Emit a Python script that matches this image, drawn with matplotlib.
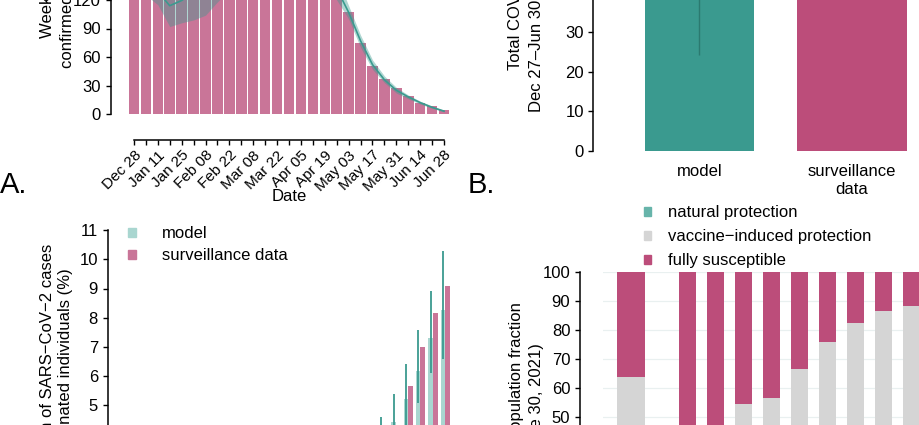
import matplotlib
matplotlib.use("Agg")
import matplotlib.pyplot as plt
import numpy as np
from matplotlib.patches import Patch

plt.rcParams["font.family"] = ["Liberation Sans", "DejaVu Sans"]
plt.rcParams["font.size"] = 12

TEAL = "#3a9a8f"
PINK = "#bc4d7a"
LIGHT_PINK = "#c97598"
LIGHT_TEAL = "#a9d6d0"
GREY = "#d5d5d5"

# panel A: weekly confirmed cases among vaccinated (upper part is cropped)
week_labels = ["Dec 28", "Jan 11", "Jan 25", "Feb 08", "Feb 22", "Mar 08", "Mar 22",
               "Apr 05", "Apr 19", "May 03", "May 17", "May 31", "Jun 14", "Jun 28"]
weekly_cases = [150, 170, 190, 205, 215, 230, 250, 245, 240, 235, 228, 220, 210,
                200, 190, 178, 160, 135, 107, 75, 51, 37, 27, 19, 12, 8, 4]
model_mid = [160, 145, 129, 114, 119.5, 128, 140, 150, 160, 170, 180, 185, 190,
             188, 185, 175, 160, 132, 107, 77, 52, 36, 25, 18, 12, 7, 3]
model_lo = [140, 125, 115, 92, 96, 99, 104, 118, 130, 140, 150, 155, 160,
            160, 158, 150, 140, 120, 100, 70, 47, 33, 22, 16, 10.5, 6, 2.3]
model_hi = [185, 170, 150, 140, 145, 160, 175, 185, 195, 205, 215, 220, 222,
            220, 215, 205, 185, 145, 114, 83, 57, 40, 28, 20, 13.5, 8.5, 4]

# panel B: total cases Dec 27 - Jun 30
total_labels = ["model", "surveillance\ndata"]
total_values = [44.8, 46.1]
model_total_lo = 24.2
model_total_hi = 61.0

# panel C: share of cases among vaccinated, weekly
share_model = [0.1, 0.15, 0.2, 0.3, 0.35, 0.45, 0.55, 0.6, 0.7, 0.8, 0.95, 1.1, 1.25,
               1.4, 1.6, 1.8, 2.0, 2.3, 2.6, 2.9, 3.3, 3.9, 4.44, 5.22, 6.18, 7.29, 8.26]
share_model_lo = [0.0, 0.05, 0.1, 0.15, 0.2, 0.25, 0.3, 0.35, 0.4, 0.5, 0.6, 0.7, 0.8,
                  0.9, 1.0, 1.2, 1.4, 1.6, 1.9, 2.1, 2.5, 3.0, 3.4, 4.1, 5.07, 6.09, 6.58]
share_model_hi = [0.3, 0.35, 0.4, 0.5, 0.6, 0.7, 0.8, 0.9, 1.0, 1.2, 1.35, 1.5, 1.7,
                  1.9, 2.2, 2.5, 2.7, 3.0, 3.4, 3.8, 4.2, 4.61, 5.39, 6.41, 7.58, 8.91, 10.3]
share_data = [0.1, 0.1, 0.2, 0.25, 0.3, 0.4, 0.5, 0.6, 0.65, 0.8, 0.9, 1.0, 1.2,
              1.3, 1.5, 1.7, 1.9, 2.2, 2.5, 2.8, 3.2, 3.6, 4.1, 5.67, 7.0, 8.15, 9.09]

# panel D: population fraction by group (June 30, 2021)
group_pos = [0, 2, 3, 4, 5, 6, 7, 8, 9, 10]
natural = [8, 4, 6, 8, 8, 8, 7, 6, 5, 5]
protected_top = [63.8, 22, 38, 54.5, 56.8, 66.7, 76.1, 82.5, 86.6, 88.5]


def px_box(left, top, right, bottom):
    return [left / 920, 1 - bottom / 425, (right - left) / 920, (bottom - top) / 425]


def r_style(ax, pad=4):
    for s in ["top", "right"]:
        ax.spines[s].set_visible(False)
    ax.tick_params(length=3.6, width=1.0, pad=pad, labelsize=12)
    for s in ax.spines.values():
        s.set_linewidth(1.1)


fig = plt.figure(figsize=(9.2, 4.25), dpi=100)

# ---- A
axA = fig.add_axes(px_box(128, -171, 450, 114))
x = np.arange(len(weekly_cases))
axA.bar(x, weekly_cases, width=0.88, color=LIGHT_PINK, zorder=1)
axA.fill_between(x, model_lo, model_hi, color=TEAL, alpha=0.4, lw=0, zorder=2)
axA.plot(x, model_mid, color=TEAL, lw=1.2, zorder=3)
axA.set_xlim(-0.5, 26.5)
axA.set_ylim(0, 300)
r_style(axA, pad=4)
axA.spines["left"].set_position(("outward", 12))
axA.spines["left"].set_bounds(0, 300)
axA.spines["bottom"].set_position(("outward", 19))
axA.spines["bottom"].set_bounds(0, 26)
axA.set_yticks(np.arange(0, 301, 30))
axA.set_xticks(np.arange(0, 27, 2))
axA.set_xticks(np.arange(1, 27, 2), minor=True)
axA.tick_params(axis="x", which="both", length=3.6, width=1.0, pad=2)
axA.set_xticklabels(week_labels, rotation=45, ha="right", va="top",
                    rotation_mode="anchor", fontsize=11)
axA.set_xlabel("Date", fontsize=12, labelpad=-3)
fig.text(48 / 920, 1 - 38 / 425, "Weekly number of", rotation=90,
         ha="center", va="bottom", fontsize=12)
fig.text(68 / 920, 1 - 68 / 425, "confirmed cases in vaccinated", rotation=90,
         ha="center", va="bottom", fontsize=12)
fig.text(0 / 920, 1 - 193 / 425, "A.", fontsize=21, ha="left", va="baseline")

# ---- B
axB = fig.add_axes(px_box(593, -86.6, 920, 151))
axB.bar([0, 1], total_values, width=0.715, color=[TEAL, PINK], zorder=1)
axB.vlines(0, model_total_lo, model_total_hi, color="#2b7a70", lw=1.0, zorder=2)
axB.set_xlim(-0.698, 1.446)
axB.set_ylim(0, 60)
r_style(axB, pad=3)
axB.spines["bottom"].set_visible(False)
axB.spines["left"].set_bounds(0, 60)
axB.set_yticks(np.arange(0, 61, 10))
axB.set_xticks([0, 1])
axB.set_xticklabels(total_labels, fontsize=12, linespacing=1.3)
axB.tick_params(axis="x", length=0, pad=9)
fig.text(516 / 920, 1 - 70 / 425, "Total COVID−19 cases", rotation=90,
         ha="center", va="bottom", fontsize=12)
fig.text(537 / 920, 1 - 112 / 425, "Dec 27–Jun 30, 2021 (%)", rotation=90,
         ha="center", va="bottom", fontsize=12)
fig.text(468 / 920, 1 - 193 / 425, "B.", fontsize=21, ha="left", va="baseline")

# ---- C
axC = fig.add_axes(px_box(116.8, 230.1, 451.6, 551.3))
xc = np.arange(len(share_model))
axC.bar(xc - 0.18, share_model, width=0.38, color=LIGHT_TEAL, zorder=1)
axC.bar(xc + 0.18, share_data, width=0.38, color=LIGHT_PINK, zorder=1)
axC.vlines(xc - 0.18, share_model_lo, share_model_hi, color=TEAL, lw=1.3, zorder=2)
axC.set_xlim(-0.5, 26.5)
axC.set_ylim(0, 11)
r_style(axC, pad=4)
axC.spines["left"].set_position(("outward", 6))
axC.spines["left"].set_bounds(0, 11)
axC.set_yticks(np.arange(0, 12, 1))
axC.set_xticks([])
axC.spines["bottom"].set_visible(False)
axC.legend(handles=[Patch(color=LIGHT_TEAL, label="model"),
                    Patch(color=LIGHT_PINK, label="surveillance data")],
           loc="upper left", bbox_to_anchor=(128 / 920, 1 - 226 / 425),
           bbox_transform=fig.transFigure, frameon=False, fontsize=12,
           handlelength=0.45, handleheight=0.45, handletextpad=1.6,
           labelspacing=0.45, borderpad=0, borderaxespad=0)
fig.text(48 / 920, 1 - 243.3 / 425, "Proportion of SARS−CoV−2 cases", rotation=90,
         ha="center", va="top", fontsize=12)
fig.text(66 / 920, 1 - 268.3 / 425, "among vaccinated individuals (%)", rotation=90,
         ha="center", va="top", fontsize=12)

# ---- D
axD = fig.add_axes(px_box(602.7, 272.3, 925, 562.3))
widths = [0.99] + [0.61] * (len(group_pos) - 1)
vaccine = [t - n for t, n in zip(protected_top, natural)]
susceptible = [100 - t for t in protected_top]
axD.bar(group_pos, natural, width=widths, color="#67b4aa", zorder=2)
axD.bar(group_pos, vaccine, bottom=natural, width=widths, color=GREY, zorder=2)
axD.bar(group_pos, susceptible, bottom=protected_top, width=widths, color=PINK, zorder=2)
axD.set_xlim(-1.02, 10.49)
axD.set_ylim(0, 100)
axD.yaxis.grid(True, color="#e9f0f0", lw=0.9)
axD.set_axisbelow(True)
r_style(axD, pad=3)
axD.spines["left"].set_position(("outward", 16.7))
axD.spines["left"].set_bounds(0, 100)
axD.spines["bottom"].set_visible(False)
axD.set_yticks(np.arange(0, 101, 10))
axD.set_xticks([])
axD.legend(handles=[Patch(color="#67b4aa", label="natural protection"),
                    Patch(color=GREY, label="vaccine−induced protection"),
                    Patch(color=PINK, label="fully susceptible")],
           loc="upper left", bbox_to_anchor=(644 / 920, 1 - 205 / 425),
           bbox_transform=fig.transFigure, frameon=False, fontsize=12,
           handlelength=0.45, handleheight=0.45, handletextpad=1.0,
           labelspacing=0.55, borderpad=0, borderaxespad=0)
fig.text(517 / 920, 1 - 301.7 / 425, "Population fraction", rotation=90,
         ha="center", va="top", fontsize=12)
fig.text(537 / 920, 1 - 343.3 / 425, "(June 30, 2021)", rotation=90,
         ha="center", va="top", fontsize=12)

fig.savefig("out.png", dpi=100)
